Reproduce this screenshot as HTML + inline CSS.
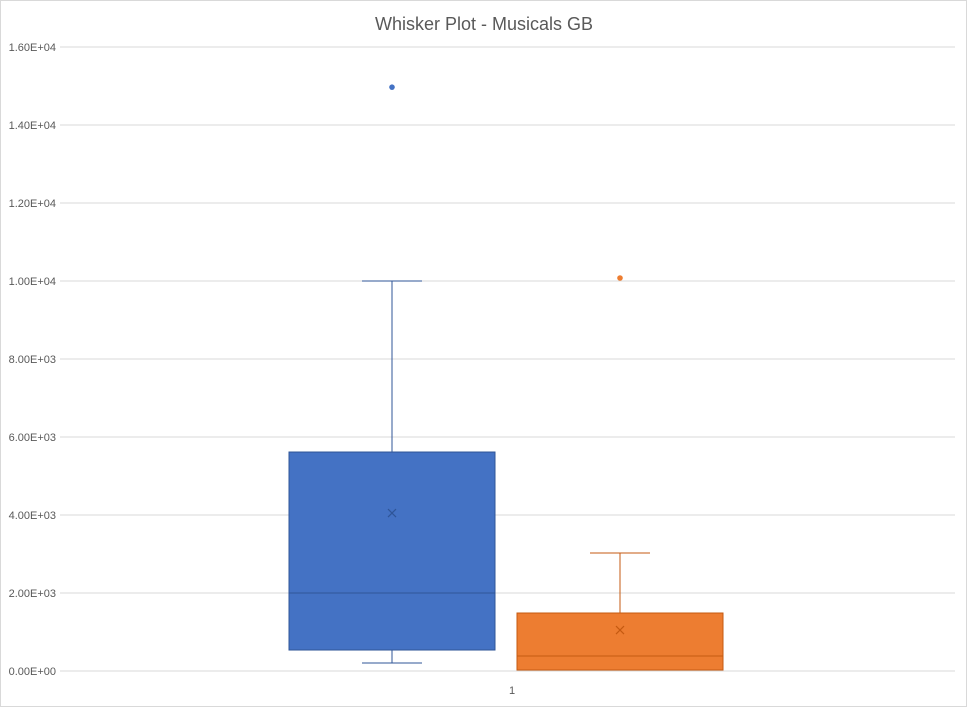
<!DOCTYPE html>
<html><head><meta charset="utf-8"><style>
body{margin:0;background:#fff;font-family:"Liberation Sans",sans-serif;}
svg text{font-family:"Liberation Sans",sans-serif;}
</style></head><body>
<svg id="chart" width="968" height="708" xmlns="http://www.w3.org/2000/svg">
<rect x="0.5" y="0.5" width="966" height="706" fill="#fff" stroke="#d9d9d9"/>
<text x="484" y="30" text-anchor="middle" font-size="18" fill="#595959">Whisker Plot - Musicals GB</text>
<g id="grid"></g><g id="marks"></g>
</svg>
<script>
const yTicks=[0,2000,4000,6000,8000,10000,12000,14000,16000];
const yTickLabels=["0.00E+00","2.00E+03","4.00E+03","6.00E+03","8.00E+03","1.00E+04","1.20E+04","1.40E+04","1.60E+04"];
const seriesNames=["blue-series","orange-series"];
const seriesColors=["#4472c4","#ed7d31"];
const strokeColors=["#2f5597","#c55a11"];
const mins=[205,25];
const q1s=[538,25];
const medians=[2000,385];
const q3s=[5615,1487];
const maxs=[10000,3025];
const means=[4050,1050];
const outliers=[[14970],[10077]];
const category="1";
const NS="http://www.w3.org/2000/svg";
const y0=671,y1=47,vmax=16000;
const Y=v=>y0-(v/vmax)*(y0-y1);
const plotL=60,plotR=955;
const boxLefts=[289,517],boxW=206;
function mk(tag,attrs,parent){const e=document.createElementNS(NS,tag);for(const k in attrs)e.setAttribute(k,attrs[k]);parent.appendChild(e);return e;}
const grid=document.getElementById('grid'),marks=document.getElementById('marks');
yTicks.forEach((t,i)=>{
  const l=mk('line',{x1:plotL,x2:plotR,y1:Y(t),y2:Y(t),stroke:'#d9d9d9','stroke-width':1},grid);
  
  
  const tx=mk('text',{x:56,y:Y(t)+4,'text-anchor':'end','font-size':'11',fill:'#595959'},grid);
  tx.textContent=yTickLabels[i];
  
  
});
const cl=mk('text',{x:512,y:694,'text-anchor':'middle','font-size':'11',fill:'#595959'},grid);
cl.textContent=category;


seriesNames.forEach((n,i)=>{
  const g=mk('g',{},marks);
  
  
  const L=boxLefts[i],C=L+boxW/2,c=seriesColors[i],s=strokeColors[i];
  mk('line',{x1:C,x2:C,y1:Y(maxs[i]),y2:Y(q3s[i]),stroke:s},g);
  mk('line',{x1:C,x2:C,y1:Y(q1s[i]),y2:Y(mins[i]),stroke:s},g);
  mk('line',{x1:C-30,x2:C+30,y1:Y(maxs[i]),y2:Y(maxs[i]),stroke:s},g);
  mk('line',{x1:C-30,x2:C+30,y1:Y(mins[i]),y2:Y(mins[i]),stroke:s},g);
  const b=mk('rect',{x:L,y:Y(q3s[i]),width:boxW,height:Y(q1s[i])-Y(q3s[i]),fill:c,stroke:s},g);
  
  
  mk('line',{x1:L,x2:L+boxW,y1:Y(medians[i]),y2:Y(medians[i]),stroke:s},g);
  const my=Y(means[i]);
  mk('path',{d:`M${C-4},${my-4}L${C+4},${my+4}M${C-4},${my+4}L${C+4},${my-4}`,stroke:s,'stroke-width':1.2},g);
  outliers[i].forEach(o=>{
    const p=mk('circle',{cx:C,cy:Y(o),r:2.8,fill:c},g);
    
    
  });
});
</script>
</body></html>
